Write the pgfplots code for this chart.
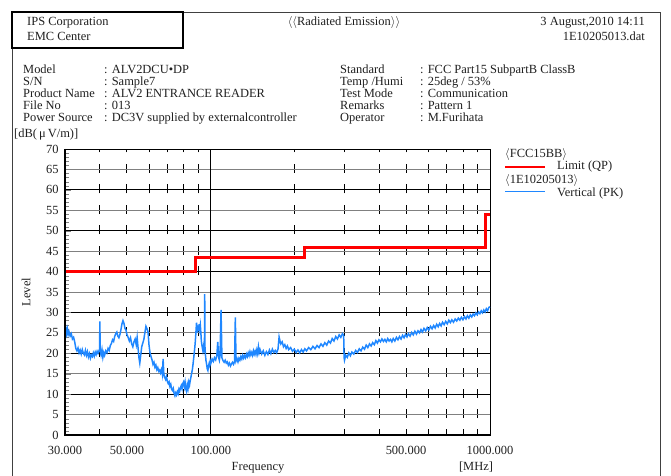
\documentclass[border=0pt]{standalone}
\usepackage{fontspec}
\setmainfont{Liberation Serif}
\usepackage{pgfplots}
\pgfplotsset{compat=1.18}
\definecolor{spec}{rgb}{0.12,0.53,1.0}
\definecolor{txt}{gray}{0.12}
\begin{document}
\begin{tikzpicture}[font=\fontsize{12.5}{13}\selectfont,text=txt]
\begin{scope}[x=1bp,y=1bp,every node/.style={inner sep=0,text height=8.5bp,text depth=2bp}]
\useasboundingbox (0,0) rectangle (671,476);
% frame
\draw[black!75,line width=0.8bp] (12,0) -- (12,464) -- (660,464) -- (660,0);
\draw[black,line width=1.3bp] (12,464) rectangle (183,428);
\node[anchor=west] at (27,454) {IPS Corporation};
\node[anchor=west] at (27,439) {EMC Center};
\node at (344,454) {$\langle\langle$Radiated Emission$\rangle\rangle$};
\node[anchor=east] at (645,454) {3 August,2010 14:11};
\node[anchor=east] at (645,439) {1E10205013.dat};
% info block
\foreach \y/\a/\b in {406/Model/ALV2DCU•DP, 394/S\slash N/Sample7, 382/Product Name/ALV2 ENTRANCE READER, 370/File No/013, 358/Power Source/DC3V supplied by externalcontroller}{
  \node[anchor=west] at (23,\y) {\a};
  \node[anchor=west] at (104,\y) {: \b};
}
\foreach \y/\a/\b in {406/Standard/FCC Part15 SubpartB ClassB, 394/Temp \slash Humi/25deg \slash\ 53\%, 382/Test Mode/Communication, 370/Remarks/Pattern 1, 358/Operator/M.Furihata}{
  \node[anchor=west] at (340,\y) {\a};
  \node[anchor=west] at (420,\y) {: \b};
}
\node[anchor=west] at (14,342) {[dB(\,μ\,V/m)]};
\node[rotate=90] at (27,184) {Level};
\node at (258,9) {Frequency};
\node at (476,9) {[MHz]};
% legend
\node[anchor=west] at (505,322) {$\langle$FCC15BB$\rangle$};
\draw[red,line width=2.5bp] (505,309) -- (545,309);
\node[anchor=west] at (557,309.5) {Limit (QP)};
\node[anchor=west] at (505,296) {$\langle$1E10205013$\rangle$};
\draw[spec,line width=0.9bp] (505,285) -- (545,285);
\node[anchor=west] at (557,283) {Vertical (PK)};
\end{scope}

\begin{axis}[at={(65bp,41bp)},anchor=south west,scale only axis,
  width=425bp,height=286bp,
  xmode=log,xmin=30,xmax=1000,ymin=0,ymax=70,
  xtick={30,50,100,500,1000},
  xticklabels={30.000,50.000,100.000,500.000,1000.000},
  minor xtick={40,50,60,70,80,90,200,300,400,500,600,700,800,900},
  ytick={0,5,...,70},minor y tick num=4,
  ytick pos=left,tick align=inside,
  major tick length=6bp,minor tick length=3.5bp,
  x tick style={draw=none},
  ymajorgrids=true,xminorgrids=true,xmajorgrids=false,
  major grid style={black!50,line width=0.9bp},
  minor grid style={black,line width=0.9bp,dash pattern=on 9bp off 11.43bp,dash phase=3.5bp},
  extra x ticks={100},extra x tick labels={},
  extra x tick style={grid=major,major grid style={black,solid,line width=1bp}},
  extra y ticks={10,20,30,40,50,60},extra y tick labels={},
  extra y tick style={grid=major,major grid style={black,line width=0.9bp}},
  axis line style={black,line width=0.9bp},
  tick label style={font=\fontsize{12.5}{13}\selectfont,text=txt},
  /pgf/number format/assume math mode=true,
  xticklabel style={yshift=-8bp},
  yticklabel style={xshift=-3bp},
  clip=false]
\addplot[red,line width=3bp] coordinates {(30,40) (88,40) (88,43.5) (216,43.5) (216,46) (960,46) (960,54) (1000,54)};
\addplot[spec,line width=1.5bp] coordinates {
(30.0,25.5) (30.2,26.2) (30.4,24.8) (30.6,25.9) (30.8,24.6) (31.0,25.3) (31.3,24.2) (31.6,24.8) (31.9,23.5) (32.2,23.9)
(32.5,22.8) (32.8,21.2) (33.1,20.6) (33.4,21.3) (33.7,20.1) (34.0,20.8) (34.3,19.8) (34.6,20.9) (34.9,20.0) (35.2,19.6)
(35.5,20.7) (35.8,19.5) (36.1,20.4) (36.4,19.1) (36.7,19.9) (37.0,18.8) (37.3,19.6) (37.6,19.2) (37.9,20.1) (38.2,19.3)
(38.5,20.3) (38.8,19.7) (39.1,20.5) (39.4,20.0) (39.7,20.6) (39.9,21.0) (40.0,27.8) (40.1,20.8) (40.4,19.6) (40.7,20.9)
(41.0,19.0) (41.3,20.2) (41.6,19.5) (42.0,20.6) (42.4,20.1) (42.8,21.2) (43.2,20.7) (43.6,21.9) (44.0,22.4) (44.4,23.3)
(44.8,22.9) (45.2,24.1) (45.6,24.8) (46.0,25.2) (46.4,24.2) (46.8,23.8) (47.2,24.6) (47.6,25.8) (48.0,27.2) (48.4,28.0)
(48.8,27.3) (49.2,26.1) (49.6,25.7) (50.0,24.6) (50.5,23.9) (51.0,23.0) (51.5,23.8) (52.0,22.3) (52.5,21.6) (53.0,22.8)
(53.5,23.5) (54.0,22.1) (54.4,23.9) (54.8,21.4) (55.2,19.0) (55.6,17.6) (56.0,19.4) (56.5,21.6) (57.0,22.5) (57.5,23.4)
(58.0,25.1) (58.5,26.6) (59.0,26.0) (59.5,25.3) (60.0,22.0) (60.5,20.1) (61.0,19.2) (61.5,18.4) (62.0,17.3) (62.5,17.8)
(63.0,16.6) (63.5,17.1) (64.0,16.0) (64.5,16.5) (65.0,15.6) (65.5,15.9) (66.0,15.2) (66.5,16.0) (67.0,14.8) (67.4,18.6)
(67.8,14.9) (68.3,14.1) (68.8,13.6) (69.3,14.3) (69.8,13.1) (70.3,12.6) (70.8,13.0) (71.3,11.9) (71.8,12.4) (72.3,11.2)
(72.8,10.9) (73.3,11.4) (73.8,10.2) (74.3,9.6) (74.8,10.3) (75.3,9.8) (75.8,10.6) (76.3,10.1) (76.8,11.2) (77.3,10.7)
(77.8,11.6) (78.3,12.1) (78.8,11.3) (79.3,12.6) (79.8,13.0) (80.3,11.8) (80.8,12.9) (81.3,11.2) (81.8,10.6) (82.3,12.3)
(82.8,11.4) (83.3,12.9) (83.8,12.2) (84.3,13.3) (84.8,14.2) (85.3,15.1) (85.8,16.0) (86.3,17.4) (86.8,19.0) (87.3,20.6)
(87.8,22.4) (88.3,24.8) (88.8,27.5) (89.2,26.3) (89.6,25.1) (90.0,26.8) (90.4,25.5) (90.8,27.1) (91.2,26.0) (91.6,26.9)
(92.0,25.2) (92.4,23.0) (92.8,22.1) (93.2,21.3) (93.6,20.6) (94.0,21.5) (94.5,20.2) (94.8,22.0) (95.0,34.5) (95.2,21.6)
(95.6,19.5) (96.0,18.2) (96.5,17.3) (97.0,16.2) (97.5,15.8) (98.0,16.9) (98.5,17.5) (99.0,17.0) (99.5,18.1) (100,17.6)
(101,18.6) (102,18.0) (103,18.9) (104,18.4) (105,19.5) (105.8,22.8) (106.5,19.1) (107.2,18.3) (107.8,19.4) (108.7,30.6)
(109.5,18.9) (110.5,18.2) (111.5,17.8) (112.5,18.3) (113.5,17.6) (114.5,17.9) (115.5,17.1) (116.5,17.6) (117.5,16.9) (118.5,17.4)
(119.5,17.8) (120.5,17.3) (121.5,18.0) (122.3,28.8) (123,18.1) (124,18.7) (125,17.9) (126,18.8) (127,18.3) (128,19.2)
(129,18.6) (130,19.5) (131,18.8) (132,19.4) (133,18.9) (134,19.8) (135,19.2) (136,20.1) (137,19.4) (138,20.4)
(139,19.6) (140,20.2) (141,19.5) (142,20.6) (143,19.8) (144,20.5) (145,19.7) (146,20.8) (147,19.9) (148,21.6)
(149,20.2) (150,20.9) (152,19.8) (154,20.6) (156,19.5) (158,20.4) (160,19.7) (162,20.8) (164,19.9) (166,21.0)
(168,20.2) (170,20.7) (172,20.1) (174,21.1) (175.5,24.0) (177,22.9) (178,22.3) (180,22.8) (182,21.6) (184,22.1)
(186,21.2) (188,21.8) (190,20.9) (193,21.4) (196,20.5) (199,21.0) (202,20.2) (205,20.8) (208,20.1) (211,20.9)
(214,20.3) (217,21.1) (220,20.6) (224,21.4) (228,20.9) (232,21.7) (236,21.1) (240,21.9) (244,21.4) (248,22.3)
(252,21.7) (256,22.6) (260,22.0) (264,23.0) (268,22.5) (272,23.6) (276,23.0) (280,24.1) (284,23.5) (288,24.5)
(292,23.9) (296,24.8) (299,24.4) (300,19.0) (301,18.3) (304,19.5) (308,19.0) (312,20.1) (316,19.4) (320,20.3)
(325,19.8) (330,20.7) (335,20.2) (340,21.1) (345,20.6) (350,21.5) (355,21.0) (360,22.0) (365,21.4) (370,22.3)
(375,21.8) (380,22.6) (385,22.1) (390,23.1) (395,22.5) (400,23.3) (405,22.8) (410,23.5) (415,22.9) (420,23.4)
(425,22.8) (430,23.6) (435,23.0) (440,23.4) (445,22.8) (450,23.6) (456,23.0) (462,23.9) (468,23.3) (474,24.1)
(480,23.5) (486,24.4) (492,23.8) (498,24.6) (504,24.0) (510,24.8) (517,24.2) (524,25.1) (531,24.5) (538,25.4)
(545,24.7) (552,25.5) (559,25.0) (566,25.8) (573,25.2) (580,26.1) (588,25.5) (596,26.3) (604,25.7) (612,26.6)
(620,26.0) (628,26.8) (636,26.2) (644,27.1) (652,26.5) (660,27.3) (668,26.7) (676,27.6) (685,27.0) (694,27.8)
(703,27.2) (712,28.1) (721,27.5) (730,28.2) (740,27.6) (750,28.4) (760,27.9) (770,28.6) (780,28.1) (790,28.8)
(800,28.2) (810,29.0) (820,28.4) (830,29.2) (840,28.6) (850,29.4) (860,28.9) (870,29.6) (880,29.2) (890,29.9)
(900,29.4) (910,30.1) (920,29.7) (930,30.4) (940,29.9) (950,30.6) (960,30.1) (970,30.9) (980,30.4) (990,31.2) (1000,31.4)
};
\draw[black,line width=2.2bp] (rel axis cs:0,1) -- (rel axis cs:0,0) -- (rel axis cs:1,0);
\end{axis}
\end{tikzpicture}
\end{document}
